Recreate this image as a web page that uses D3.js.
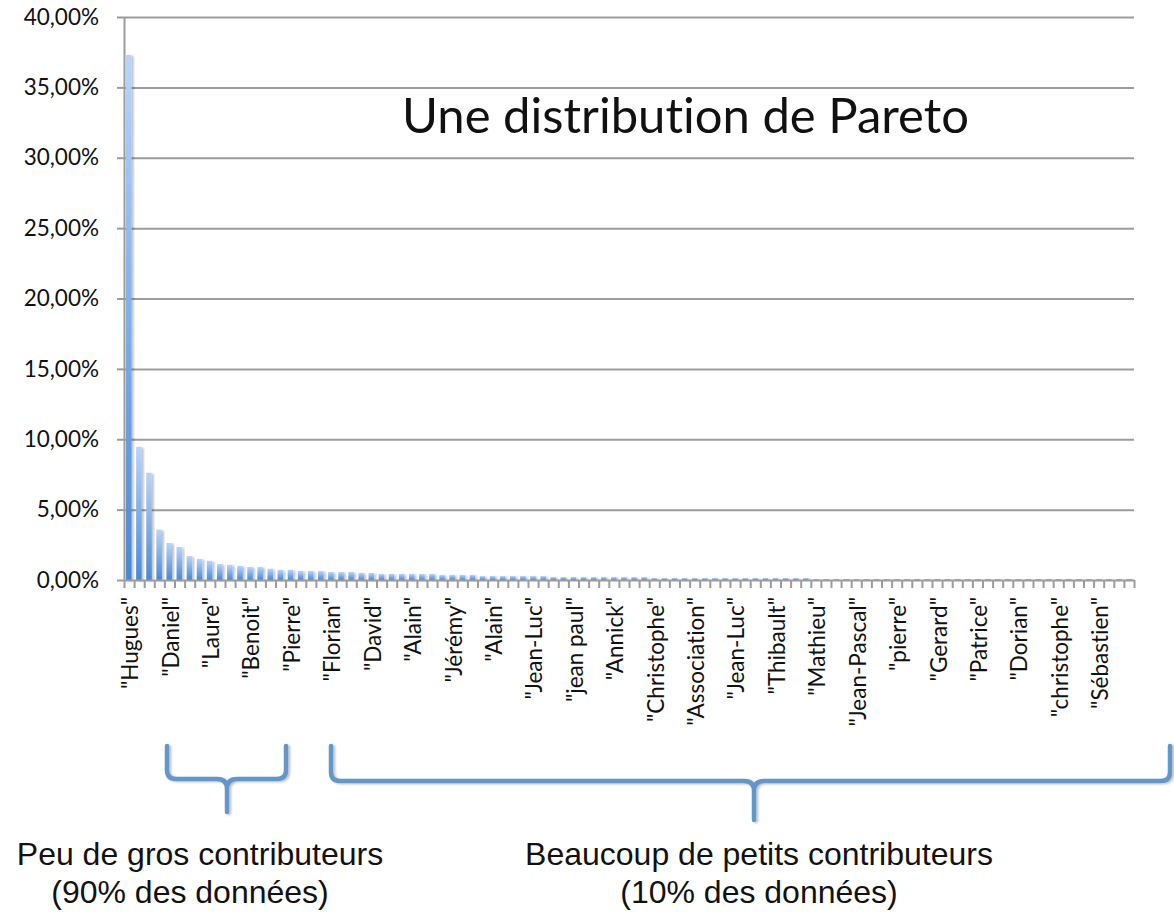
<!DOCTYPE html>
<html>
<head>
<meta charset="utf-8">
<script src="https://cdn.jsdelivr.net/npm/d3@7"></script>
<style>
  body { margin: 0; background: #fff; }
  svg text { font-variant-ligatures: none; font-feature-settings: "liga" 0; }
  .axis text { font-family: Lato, "Open Sans", sans-serif; fill: #111; }
  .note { font-family: "Liberation Sans", Arial, sans-serif; font-size: 32px; fill: #111; text-anchor: middle; }
</style>
</head>
<body>
<svg id="chart" width="1174" height="914"></svg>
<script>
// Names shown under the axis (one label every 4 bars)
const labels = ["Hugues", "Daniel", "Laure", "Benoit", "Pierre", "Florian", "David", "Alain",
  "Jérémy", "Alain", "Jean-Luc", "jean paul", "Annick", "Christophe", "Association",
  "Jean-Luc", "Thibault", "Mathieu", "Jean-Pascal", "pierre", "Gerard", "Patrice",
  "Dorian", "christophe", "Sébastien"];

// Share of each contributor, in percent
const shares = [
  37.3, 9.46, 7.62, 3.57, 2.63, 2.34, 1.70, 1.49, 1.36, 1.14,
  1.08, 1.00, 0.92, 0.92, 0.80, 0.72, 0.72, 0.64, 0.64, 0.64,
  0.57, 0.57, 0.57, 0.50, 0.50, 0.43, 0.43, 0.43, 0.43, 0.43,
  0.43, 0.36, 0.36, 0.36, 0.36, 0.28, 0.28, 0.28, 0.28, 0.28,
  0.28, 0.28, 0.21, 0.21, 0.21, 0.21, 0.21, 0.21, 0.21, 0.21,
  0.21, 0.21, 0.14, 0.14, 0.14, 0.14, 0.14, 0.14, 0.14, 0.14,
  0.14, 0.14, 0.14, 0.14, 0.14, 0.14, 0.14, 0.14, 0.07, 0.07,
  0.07, 0.07, 0.07, 0.07, 0.07, 0.07, 0.07, 0.07, 0.07, 0.07,
  0.07, 0.07, 0.07, 0.07, 0.07, 0.07, 0.07, 0.07, 0.07, 0.07,
  0.07, 0.07, 0.07, 0.07, 0.07, 0.07, 0.07, 0.07, 0.07, 0.07
];

const yTicks = [0, 5, 10, 15, 20, 25, 30, 35, 40];

const title = "Une distribution de Pareto";
const noteLeft = ["Peu de gros contributeurs", "(90% des données)"];
const noteRight = ["Beaucoup de petits contributeurs", "(10% des données)"];

const margin = { left: 124, right: 40, top: 17, bottom: 334 };
const width = 1174, height = 914;
const plotW = width - margin.left - margin.right;
const plotBottom = height - margin.bottom;

const svg = d3.select("#chart");

// French number format: 40,00%
const fr = d3.formatLocale({ decimal: ",", thousands: " ", grouping: [3], currency: ["", " €"] });
const fmt = fr.format(".2f");

// Scales
const x = d3.scaleBand()
  .domain(d3.range(shares.length))
  .range([margin.left, margin.left + plotW])
  .paddingInner(0.45)
  .paddingOuter(0.2);
const xEdge = d3.scaleLinear().domain([0, shares.length]).range([margin.left, margin.left + plotW]);
const y = d3.scaleLinear().domain([0, 40]).range([plotBottom, margin.top]);

// Defs: bar gradient + soft shadow
const defs = svg.append("defs");
const grad = defs.append("linearGradient").attr("id", "barGrad")
  .attr("x1", 0).attr("y1", 0).attr("x2", 0).attr("y2", 1);
grad.append("stop").attr("offset", "0%").attr("stop-color", "#b9d4fb");
grad.append("stop").attr("offset", "100%").attr("stop-color", "#4889d4");
const shadow = defs.append("filter").attr("id", "shadow")
  .attr("x", "-50%").attr("y", "-10%").attr("width", "200%").attr("height", "130%");
shadow.append("feDropShadow").attr("dx", 2).attr("dy", 1)
  .attr("stdDeviation", 1.2).attr("flood-color", "#000").attr("flood-opacity", 0.25);

// Gridlines
svg.append("g")
  .attr("transform", `translate(${margin.left},0)`)
  .call(d3.axisLeft(y).tickValues(yTicks.slice(1)).tickSize(-plotW).tickFormat(""))
  .call(g => g.select(".domain").remove())
  .call(g => g.selectAll("line").attr("stroke", "#9c9c9c").attr("stroke-width", 2));

// Bars
svg.append("g").selectAll("rect")
  .data(shares)
  .join("rect")
  .attr("x", (d, i) => x(i))
  .attr("width", x.bandwidth())
  .attr("y", d => y(d))
  .attr("height", d => plotBottom - y(d))
  .attr("fill", "url(#barGrad)")
  .attr("filter", "url(#shadow)");

// Y axis
svg.append("g")
  .attr("class", "axis")
  .attr("transform", `translate(${margin.left},0)`)
  .call(d3.axisLeft(y).tickValues(yTicks).tickSize(7).tickSizeOuter(0).tickPadding(18)
    .tickFormat(d => fmt(d) + "%"))
  .call(g => g.select(".domain").attr("stroke", "#9c9c9c").attr("stroke-width", 2))
  .call(g => g.selectAll("line").attr("stroke", "#9c9c9c").attr("stroke-width", 2))
  .call(g => g.selectAll("text").style("font-size", "22.5px"));

// X axis: tick marks between categories
svg.append("g")
  .attr("transform", `translate(0,${plotBottom})`)
  .call(d3.axisBottom(xEdge).tickValues(d3.range(0, shares.length + 1)).tickSize(8).tickSizeOuter(0).tickFormat(""))
  .call(g => g.select(".domain").attr("stroke", "#9c9c9c").attr("stroke-width", 2))
  .call(g => g.selectAll("line").attr("stroke", "#9c9c9c").attr("stroke-width", 2));

// X labels, rotated
svg.append("g")
  .attr("class", "axis")
  .attr("transform", `translate(0,${plotBottom})`)
  .call(d3.axisBottom(x).tickValues(d3.range(0, shares.length, 4)).tickSize(0)
    .tickFormat(i => `"${labels[i / 4]}"`))
  .call(g => g.select(".domain").remove())
  .call(g => g.selectAll("text")
    .style("font-size", "22.5px")
    .style("text-anchor", "end")
    .attr("transform", "rotate(-90)")
    .attr("x", -17)
    .attr("y", 1.5)
    .attr("dy", "0.35em"));

// Title
svg.append("text")
  .attr("x", 402).attr("y", 133)
  .style("font-family", "Lato, 'Open Sans', sans-serif")
  .style("font-size", "49px")
  .style("fill", "#111")
  .text(title);

// Braces
function bracePath(x0, x1, xm, yTop, yBar, yTip) {
  const r = 9, c = 10;
  const p = d3.path();
  p.moveTo(x0, yTop);
  p.lineTo(x0, yBar - r);
  p.quadraticCurveTo(x0, yBar, x0 + r, yBar);
  p.lineTo(xm - c, yBar);
  p.quadraticCurveTo(xm, yBar, xm, yBar + c);
  p.lineTo(xm, yTip);
  p.moveTo(xm, yBar + c);
  p.quadraticCurveTo(xm, yBar, xm + c, yBar);
  p.lineTo(x1 - r, yBar);
  p.quadraticCurveTo(x1, yBar, x1, yBar - r);
  p.lineTo(x1, yTop);
  return p.toString();
}

const braces = svg.append("g")
  .attr("fill", "none")
  .attr("stroke", "#6396c9")
  .attr("stroke-width", 4.5)
  .attr("stroke-linecap", "round")
  .attr("stroke-linejoin", "round")
  .attr("filter", "url(#shadow)");
braces.append("path").attr("d", bracePath(167, 286, 227, 746, 779, 812));
braces.append("path").attr("d", bracePath(331, 1170, 754, 746, 781, 820));

// Notes under the braces
const notes = svg.append("g").attr("class", "note");
notes.append("text").attr("x", 200).attr("y", 865).text(noteLeft[0]);
notes.append("text").attr("x", 190).attr("y", 903).text(noteLeft[1]);
notes.append("text").attr("x", 759).attr("y", 865).text(noteRight[0]);
notes.append("text").attr("x", 759).attr("y", 903).text(noteRight[1]);
</script>
</body>
</html>
